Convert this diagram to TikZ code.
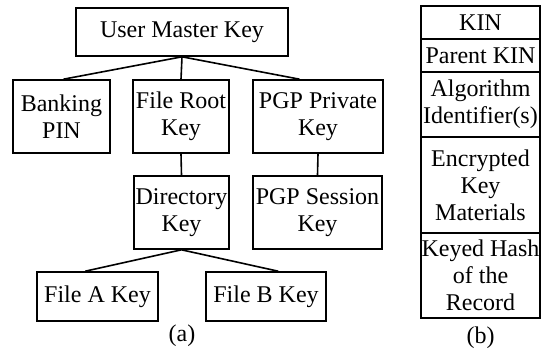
\documentclass[tikz,border=0pt]{standalone}
\usepackage{fontspec}
\setmainfont{Liberation Serif}
\usetikzlibrary{calc}
\begin{document}
\begin{tikzpicture}[x=1pt,y=-1pt,
  keybox/.style={draw,line width=1.6pt,inner sep=0pt,align=center,font=\rmfamily\fontsize{24}{27}\selectfont},
  rowbox/.style={draw,line width=1.6pt,inner sep=0pt,align=center,minimum width=119pt,font=\rmfamily\fontsize{24}{27}\selectfont},
  link/.style={line width=1.6pt},
  captext/.style={inner sep=0pt,font=\rmfamily\fontsize{24}{27}\selectfont}]
\useasboundingbox (0,0) rectangle (541,351);
\node[keybox,minimum width=212pt,minimum height=48pt] (umk) at (182,32) {User Master Key};
\node[keybox,minimum width=97pt,minimum height=73pt] (bank) at (61.5,116.5) {Banking\\PIN};
\node[keybox,minimum width=96pt,minimum height=73pt] (froot) at (181,116.5) {File Root\\Key};
\node[keybox,minimum width=130pt,minimum height=73pt] (pgpp) at (318,116.5) {PGP Private\\Key};
\node[keybox,minimum width=95pt,minimum height=73pt] (dir) at (181.5,212.5) {Directory\\Key};
\node[keybox,minimum width=129pt,minimum height=73pt] (pgps) at (317.5,212.5) {PGP Session\\Key};
\node[keybox,minimum width=121pt,minimum height=49pt] (fa) at (97.5,296.5) {File A Key};
\node[keybox,minimum width=120pt,minimum height=49pt] (fb) at (266,296.5) {File B Key};
\node[captext] (capa) at (182,336) {(a)};
\draw[link] (umk.south) -- ($(bank.north west)!0.52!(bank.north east)$);
\draw[link] (umk.south) -- (froot.north);
\draw[link] (umk.south) -- ($(pgpp.north west)!0.36!(pgpp.north east)$);
\draw[link] (froot.south) -- (dir.north);
\draw[link] (pgpp.south) -- (pgps.north);
\draw[link] (dir.south) -- ($(fa.north west)!0.40!(fa.north east)$);
\draw[link] (dir.south) -- ($(fb.north west)!0.60!(fb.north east)$);
\node[rowbox,minimum height=33pt] (kin) at (480.5,22.5) {KIN};
\node[rowbox,minimum height=33pt] (pkin) at (480.5,55.5) {Parent KIN};
\node[rowbox,minimum height=65pt] (alg) at (480.5,104.5) {Algorithm\\Identifier(s)};
\node[rowbox,minimum height=96pt] (enc) at (480.5,185) {Encrypted\\Key\\Materials};
\node[rowbox,minimum height=85pt] (hash) at (480.5,275.5) {Keyed Hash\\of the\\Record};
\node[captext] (capb) at (480.5,338) {(b)};
\end{tikzpicture}
\end{document}
